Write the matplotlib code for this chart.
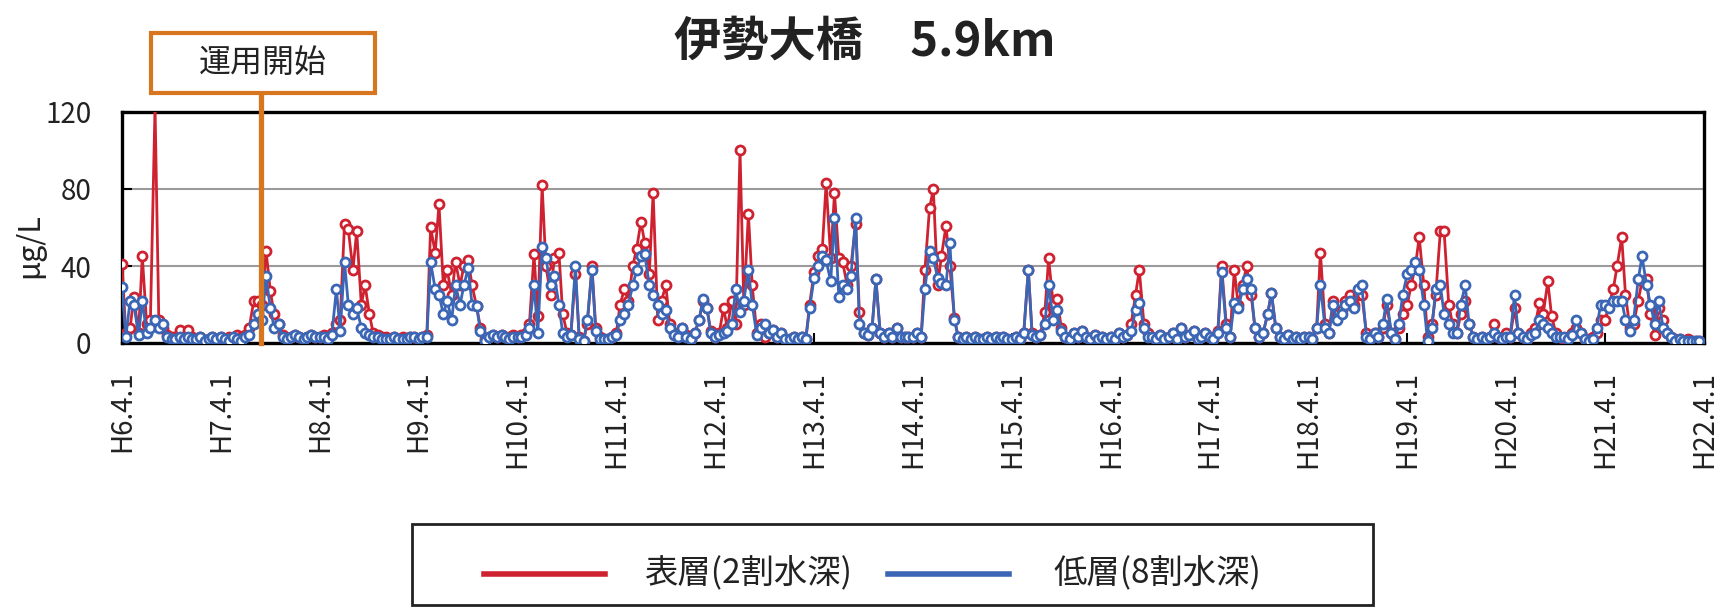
import numpy as np
import pandas as pd
import matplotlib
matplotlib.use('Agg')
import matplotlib.pyplot as plt
from matplotlib.patches import Rectangle
from matplotlib.lines import Line2D

plt.rcParams['font.family'] = ['Noto Sans CJK JP', 'DejaVu Sans']

# ---------------- data (semi-monthly samples, H6.4 - H22.3) ----------------
start_date = '1994-04-01'
n_samples = 384
surface = [  # 表層(2割水深)  one row per fiscal year H6..H21
    41, 5, 8, 24, 5, 45, 10, 12, 123, 12, 8, 4, 3, 3, 7, 3, 7, 3, 2, 3, 1, 2, 3, 2,
    3, 2, 3, 2, 4, 3, 4, 8, 22, 22, 20, 48, 27, 15, 10, 4, 2, 3, 4, 3, 2, 3, 4, 3,
    3, 4, 3, 5, 10, 12, 62, 59, 38, 58, 20, 30, 15, 5, 4, 3, 3, 2, 3, 2, 3, 2, 3, 3,
    2, 3, 4, 60, 47, 72, 30, 38, 25, 42, 30, 40, 43, 30, 19, 8, 2, 3, 4, 3, 4, 3, 3, 4,
    3, 4, 5, 10, 46, 14, 82, 40, 25, 44, 47, 15, 5, 4, 36, 3, 1, 10, 40, 8, 3, 2, 2, 3,
    5, 20, 28, 22, 40, 49, 63, 52, 36, 78, 12, 22, 30, 10, 5, 4, 8, 4, 2, 5, 12, 22, 18, 6,
    3, 5, 18, 8, 22, 10, 100, 20, 67, 30, 5, 10, 3, 5, 7, 3, 5, 2, 2, 3, 2, 3, 2, 20,
    37, 45, 49, 83, 44, 78, 44, 42, 30, 40, 62, 16, 5, 4, 8, 33, 5, 3, 5, 3, 8, 3, 3, 3,
    3, 5, 3, 38, 70, 80, 30, 45, 61, 40, 13, 3, 2, 3, 2, 3, 2, 2, 3, 2, 3, 2, 3, 2,
    2, 3, 2, 5, 38, 5, 3, 4, 16, 44, 20, 23, 8, 3, 2, 5, 3, 6, 3, 2, 4, 2, 3, 2,
    3, 2, 5, 3, 4, 10, 25, 38, 10, 5, 3, 2, 4, 2, 3, 5, 2, 8, 3, 4, 6, 2, 3, 5,
    3, 2, 6, 40, 10, 3, 38, 20, 30, 40, 25, 8, 3, 5, 15, 26, 8, 3, 2, 4, 2, 3, 2, 3,
    3, 2, 8, 47, 10, 5, 22, 15, 17, 22, 25, 20, 25, 25, 5, 3, 5, 3, 8, 20, 5, 2, 8, 15,
    20, 30, 40, 55, 30, 3, 10, 25, 58, 58, 20, 10, 5, 15, 22, 10, 3, 2, 3, 2, 3, 10, 3, 2,
    5, 3, 18, 5, 3, 2, 5, 8, 21, 15, 32, 14, 5, 3, 2, 3, 5, 8, 5, 2, 2, 3, 5, 12,
    12, 20, 28, 40, 55, 25, 8, 10, 22, 32, 33, 15, 4, 18, 12, 5, 3, 2, 2, 1, 2, 1, 1, 1,
]
bottom = [  # 低層(8割水深)
    29, 3, 22, 20, 4, 22, 5, 8, 12, 8, 10, 3, 2, 2, 3, 2, 3, 2, 2, 3, 1, 2, 3, 2,
    3, 2, 1, 3, 2, 1, 3, 4, 10, 15, 12, 35, 18, 8, 10, 3, 2, 3, 4, 3, 2, 3, 4, 3,
    3, 3, 2, 4, 28, 6, 42, 20, 15, 18, 8, 5, 4, 3, 3, 2, 2, 2, 3, 2, 2, 2, 3, 3,
    2, 3, 3, 42, 28, 25, 15, 22, 12, 30, 20, 30, 39, 20, 19, 6, 1, 3, 4, 3, 4, 3, 2, 3,
    3, 3, 4, 8, 30, 5, 50, 44, 30, 35, 20, 5, 3, 4, 40, 2, 1, 12, 38, 6, 2, 2, 2, 3,
    4, 12, 15, 20, 30, 38, 45, 46, 30, 25, 20, 15, 17, 8, 4, 3, 8, 3, 2, 5, 12, 23, 18, 5,
    3, 4, 5, 6, 10, 28, 16, 22, 38, 20, 4, 8, 10, 5, 7, 3, 5, 2, 2, 3, 2, 3, 2, 18,
    34, 40, 45, 43, 32, 65, 24, 30, 28, 35, 65, 10, 5, 4, 8, 33, 5, 3, 5, 3, 8, 3, 3, 3,
    3, 5, 3, 28, 48, 44, 34, 31, 30, 52, 12, 3, 2, 3, 2, 3, 2, 2, 3, 2, 3, 2, 3, 2,
    2, 3, 2, 5, 38, 4, 3, 4, 10, 30, 12, 17, 6, 3, 2, 5, 3, 6, 3, 2, 4, 2, 3, 2,
    3, 2, 5, 3, 4, 6, 17, 21, 8, 3, 3, 2, 4, 2, 3, 5, 2, 8, 3, 4, 6, 2, 3, 5,
    3, 2, 5, 37, 8, 3, 21, 18, 28, 33, 28, 8, 3, 5, 15, 26, 8, 3, 2, 4, 2, 3, 2, 3,
    3, 2, 8, 30, 8, 5, 20, 12, 15, 20, 22, 18, 28, 30, 3, 2, 5, 3, 10, 23, 5, 2, 10, 25,
    36, 38, 42, 38, 20, 1, 8, 28, 30, 15, 10, 5, 5, 20, 30, 10, 3, 2, 3, 2, 3, 5, 3, 2,
    3, 3, 25, 5, 3, 2, 4, 5, 12, 10, 8, 5, 3, 3, 3, 2, 4, 12, 5, 2, 1, 2, 8, 20,
    20, 18, 22, 22, 22, 12, 6, 12, 33, 45, 30, 20, 10, 22, 8, 5, 3, 1, 2, 1, 1, 1, 1, 1,
]
tick_dates = [f'{y}-04-01' for y in range(1994, 2011)]
tick_labels = [f'H{n}.4.1' for n in range(6, 23)]
y_ticks = [0, 40, 80, 120]
operation_start = '1995-08-28'
title = '伊勢大橋　5.9km'
series_names = ['表層(2割水深)', '低層(8割水深)']

RED = '#cf2230'
BLUE = '#3b66b5'
ORANGE = '#d8751f'

dates = pd.date_range(start_date, periods=n_samples, freq='SMS')
tdates = pd.to_datetime(tick_dates)

W, H = 1727, 610
fig = plt.figure(figsize=(W / 100, H / 100), dpi=100)
fig.patch.set_facecolor('white')
ax = fig.add_axes([122 / W, 1 - 343 / H, (1704 - 122) / W, (343 - 112) / H])

ax.plot(dates, surface, color=RED, lw=2.0, marker='o', ms=6.5,
        mfc='white', mec=RED, mew=2.0, zorder=3)
ax.plot(dates, bottom, color=BLUE, lw=2.0, marker='o', ms=6.5,
        mfc='white', mec=BLUE, mew=2.0, zorder=4)

ax.set_ylim(0, 120)
ax.set_yticks(y_ticks)
ax.set_xlim(tdates[0], tdates[-1])
ax.set_xticks(tdates)
ax.set_xticklabels(tick_labels, rotation=90, fontsize=20, color='#222222')
ax.tick_params(axis='y', labelsize=20, labelcolor='#222222', pad=22)
ax.tick_params(axis='x', pad=20)
ax.tick_params(axis='both', direction='in', length=7, width=1.5)
ax.grid(axis='y', color='#9a9a9a', lw=1.5, zorder=1)
for s in ax.spines.values():
    s.set_linewidth(2.4)
    s.set_color('black')

# operation start marker
op = pd.to_datetime(operation_start)
ax.plot([op, op], [0, (343 - 93) / (343 - 112)], transform=ax.get_xaxis_transform(),
        color=ORANGE, lw=3.8, clip_on=False, zorder=5)
fig.add_artist(Rectangle((151 / W, 1 - 93 / H), 224 / W, 60 / H, transform=fig.transFigure,
                         facecolor='white', edgecolor=ORANGE, lw=3))
fig.text(263 / W, 1 - 63 / H, '運用開始', ha='center', va='center', fontsize=23, color='#222222')

# title & y label
fig.text(0.501, 1 - 42 / H, title, ha='center', va='center', fontsize=34,
         fontweight='bold', color='#222222')
fig.text(30 / W, 1 - 246 / H, 'μg/L', rotation=90, ha='center', va='center',
         fontsize=22, color='#222222')

# legend box
fig.add_artist(Rectangle((412 / W, 1 - 605 / H), 961 / W, 81 / H, transform=fig.transFigure,
                         facecolor='white', edgecolor='#222222', lw=2))
ly = 1 - 574 / H
fig.add_artist(Line2D([484 / W, 605 / W], [ly, ly], transform=fig.transFigure, color=RED, lw=4))
fig.text(644 / W, ly, series_names[0], ha='left', va='center', fontsize=24, color='#222222')
fig.add_artist(Line2D([888 / W, 1009 / W], [ly, ly], transform=fig.transFigure, color=BLUE, lw=4))
fig.text(1053 / W, ly, series_names[1], ha='left', va='center', fontsize=24, color='#222222')

fig.savefig('out.png', dpi=100)
